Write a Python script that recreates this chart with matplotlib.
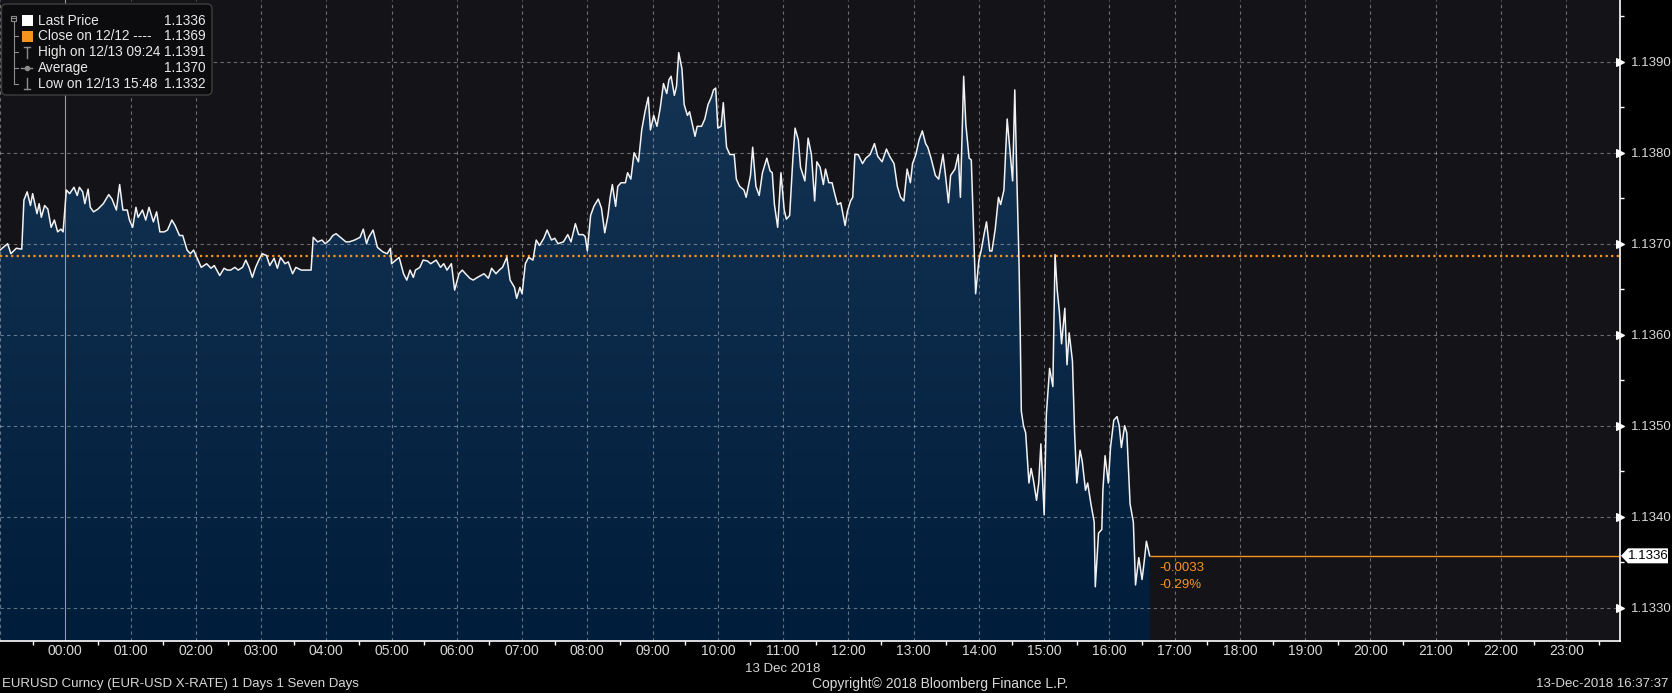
import numpy as np
import matplotlib
matplotlib.use("Agg")
import matplotlib.pyplot as plt
from matplotlib.colors import LinearSegmentedColormap
from matplotlib.patches import FancyBboxPatch, Polygon, Rectangle
from matplotlib.lines import Line2D
from matplotlib.transforms import IdentityTransform

plt.rcParams["font.family"] = ["Liberation Sans", "DejaVu Sans"]

# EURUSD intraday, minutes from 00:00 on 13 Dec 2018 (negative = 12 Dec)
times_min = [
    -60, -53, -50, -45, -40, -38, -35, -32, -30, -26, -24, -22, -19, -16, -13, -10, -7, -4, -2,
    1, 4, 8, 11, 13, 16, 18, 21, 23, 26, 30, 35, 40, 43, 47, 50, 53, 57, 59,
    62, 65, 67, 71, 74, 77, 81, 84, 87, 91, 94, 98, 101, 105, 108, 112, 115, 118,
    122, 125, 130, 134, 137, 142, 146, 149, 152, 156, 159, 163, 166, 169, 172, 175, 178,
    181, 185, 188, 192, 195, 198, 202, 205, 209, 212, 217, 222, 226, 228, 232, 236, 239,
    243, 246, 249, 253, 258, 261, 266, 271, 274, 277, 279, 283, 287, 292, 296, 299,
    300, 304, 307, 311, 314, 317, 320, 322, 326, 329, 333, 336, 341, 345, 348, 351, 355, 358,
    362, 365, 368, 372, 375, 379, 382, 385, 389, 392, 396, 399, 402, 406, 409, 413, 415, 418,
    420, 423, 426, 430, 433, 436, 440, 443, 447, 450, 453, 458, 462, 465, 469, 472, 476, 478,
    480, 483, 486, 490, 493, 496, 499, 501, 503, 506, 508, 511, 515, 517, 520, 523, 527, 530,
    533, 536, 538, 541, 544, 547, 550, 553, 555, 557, 560, 562, 564, 567, 569, 572, 574, 579,
    581, 585, 588, 591, 594, 596, 598, 600, 603, 605, 608, 611, 615, 617, 620, 624, 626, 630,
    632, 635, 638, 641, 645, 648, 650, 652, 655, 658, 661, 663, 666, 669, 671, 674, 676, 680,
    683, 686, 689, 691, 694, 697, 699, 702, 705, 707, 710, 713, 717, 719, 722, 724, 726, 729,
    733, 736, 740, 744, 747, 751, 755, 758, 762, 765, 768, 771, 774, 777, 779, 782, 785, 788,
    791, 793, 796, 800, 803, 807, 809, 812, 814, 818, 821, 823, 826, 828, 831, 833, 835, 837,
    840, 842, 845, 847, 850, 852, 855, 858, 860, 863, 866, 868, 871, 873, 875, 877, 878, 879,
    881, 883, 886, 888, 890, 893, 895, 897, 900, 902, 905, 908, 910, 912, 914, 916, 919, 921,
    923, 926, 928, 930, 933, 935, 938, 940, 943, 946, 947, 950, 953, 954, 956, 959, 961, 964,
    967, 969, 971, 974, 976, 979, 982, 984, 987, 990, 992, 994, 997,
]
prices = [
    1.13693, 1.13700, 1.13689, 1.13695, 1.13694, 1.13748, 1.13757, 1.13742, 1.13755, 1.13733,
    1.13744, 1.13729, 1.13742, 1.13738, 1.13718, 1.13726, 1.13713, 1.13716, 1.13713,
    1.13759, 1.13755, 1.13762, 1.13753, 1.13762, 1.13757, 1.13744, 1.13760, 1.13740, 1.13735,
    1.13738, 1.13744, 1.13754, 1.13749, 1.13737, 1.13765, 1.13737, 1.13737, 1.13726,
    1.13718, 1.13740, 1.13729, 1.13737, 1.13726, 1.13740, 1.13724, 1.13735, 1.13713, 1.13713,
    1.13715, 1.13726, 1.13720, 1.13709, 1.13709, 1.13693, 1.13689, 1.13693,
    1.13682, 1.13674, 1.13678, 1.13673, 1.13676, 1.13665, 1.13673, 1.13671, 1.13671, 1.13674,
    1.13671, 1.13674, 1.13682, 1.13674, 1.13663, 1.13674, 1.13682,
    1.13689, 1.13687, 1.13676, 1.13684, 1.13673, 1.13685, 1.13678, 1.13680, 1.13667, 1.13674,
    1.13671, 1.13671, 1.13671, 1.13707, 1.13702, 1.13704, 1.13700,
    1.13704, 1.13709, 1.13711, 1.13707, 1.13702, 1.13702, 1.13704, 1.13707, 1.13716, 1.13700,
    1.13707, 1.13715, 1.13696, 1.13691, 1.13689, 1.13695,
    1.13678, 1.13682, 1.13685, 1.13667, 1.13660, 1.13671, 1.13663, 1.13671, 1.13674, 1.13682,
    1.13681, 1.13678, 1.13682, 1.13674, 1.13678, 1.13671, 1.13678, 1.13649,
    1.13667, 1.13671, 1.13667, 1.13662, 1.13660, 1.13663, 1.13665, 1.13667, 1.13662, 1.13673,
    1.13667, 1.13671, 1.13674, 1.13685, 1.13660, 1.13652, 1.13640, 1.13652,
    1.13645, 1.13678, 1.13685, 1.13682, 1.13704, 1.13698, 1.13706, 1.13715, 1.13704, 1.13706,
    1.13700, 1.13702, 1.13710, 1.13702, 1.13722, 1.13710, 1.13710, 1.13708,
    1.13692, 1.13731, 1.13741, 1.13749, 1.13739, 1.13712, 1.13731, 1.13751, 1.13765, 1.13741,
    1.13763, 1.13767, 1.13767, 1.13778, 1.13771, 1.13800, 1.13790, 1.13825,
    1.13845, 1.13861, 1.13825, 1.13841, 1.13829, 1.13849, 1.13876, 1.13865, 1.13880, 1.13884,
    1.13863, 1.13873, 1.13910, 1.13892, 1.13853, 1.13841, 1.13845, 1.13818,
    1.13829, 1.13829, 1.13837, 1.13853, 1.13861, 1.13869, 1.13871, 1.13827, 1.13829, 1.13855,
    1.13806, 1.13798, 1.13798, 1.13771, 1.13763, 1.13759, 1.13751, 1.13775,
    1.13806, 1.13763, 1.13753, 1.13778, 1.13794, 1.13780, 1.13778, 1.13743, 1.13718, 1.13778,
    1.13737, 1.13727, 1.13731, 1.13794, 1.13827, 1.13814, 1.13784, 1.13769,
    1.13816, 1.13798, 1.13747, 1.13790, 1.13784, 1.13765, 1.13782, 1.13767, 1.13767, 1.13757,
    1.13743, 1.13745, 1.13720, 1.13735, 1.13747, 1.13751, 1.13798, 1.13798,
    1.13788, 1.13794, 1.13798, 1.13810, 1.13796, 1.13790, 1.13804, 1.13796, 1.13788, 1.13763,
    1.13751, 1.13747, 1.13782, 1.13767, 1.13788, 1.13798, 1.13814, 1.13824,
    1.13810, 1.13806, 1.13794, 1.13775, 1.13771, 1.13798, 1.13778, 1.13745, 1.13775, 1.13782,
    1.13798, 1.13751, 1.13884, 1.13831, 1.13794, 1.13792, 1.13720, 1.13645,
    1.13682, 1.13692, 1.13712, 1.13724, 1.13692, 1.13692, 1.13716, 1.13751, 1.13743, 1.13759,
    1.13837, 1.13810, 1.13769, 1.13869, 1.13767, 1.13673, 1.13602, 1.13516,
    1.13500, 1.13492, 1.13437, 1.13453, 1.13441, 1.13418, 1.13437, 1.13480, 1.13402, 1.13512,
    1.13563, 1.13543, 1.13688, 1.13649, 1.13625, 1.13590, 1.13629, 1.13567,
    1.13602, 1.13571, 1.13492, 1.13437, 1.13473, 1.13461, 1.13429, 1.13437, 1.13414, 1.13394,
    1.13323, 1.13382, 1.13386, 1.13429, 1.13467, 1.13437, 1.13476, 1.13506,
    1.13510, 1.13500, 1.13476, 1.13500, 1.13492, 1.13414, 1.13394, 1.13325, 1.13355, 1.13331,
    1.13351, 1.13373, 1.13357,
]
close_price = 1.13686
legend_labels = ["Last Price", "Close on 12/12 ----", "High on 12/13 09:24", "Average",
                 "Low on 12/13 15:48"]
legend_values = [1.1336, 1.1369, 1.1391, 1.1370, 1.1332]
y_ticks = [1.1330, 1.1340, 1.1350, 1.1360, 1.1370, 1.1380, 1.1390]
hour_ticks = list(range(24))

W, H = 1672, 693
BG = "#000000"
PLOT_BG = "#141318"
TXT = "#d8d8d8"
ORANGE = "#f7941d"

t = np.array(times_min, dtype=float)
p = np.array(prices)
xmin, xmax = -60, 1429.7
ymin, ymax = 1.132634, 1.139678

fig = plt.figure(figsize=(W / 100, H / 100), dpi=100, facecolor=BG)
ax = fig.add_axes([0, 52 / H, 1620.3 / W, 641 / H])
ax.set_facecolor(PLOT_BG)

# gradient fill under the price line
cmap = LinearSegmentedColormap.from_list("fill", ["#001d3b", "#173656"])
grad = np.linspace(0, 1, 256).reshape(-1, 1)
im = ax.imshow(grad, extent=[xmin, xmax, ymin, ymax], origin="lower", aspect="auto",
               cmap=cmap, zorder=1, interpolation="bilinear")
poly = ax.fill_between(t, p, ymin, facecolor="none", edgecolor="none")
im.set_clip_path(poly.get_paths()[0], transform=ax.transData)

# grid
for h in range(-1, 24):
    if h == 0:
        ax.axvline(0, color="#9a9a9a", lw=0.8, zorder=2)
    else:
        ax.axvline(h * 60, color="white", alpha=0.38, lw=0.8, ls=(0, (3, 3)), zorder=2)
for yv in y_ticks:
    ax.axhline(yv, color="white", alpha=0.38, lw=0.8, ls=(0, (3, 3)), zorder=2)

# previous close and last price
ax.axhline(close_price, color=ORANGE, lw=1.6, ls=(0, (1, 1.5)), zorder=3)
ax.plot(t, p, color="#f2f2f2", lw=1.1, zorder=4)
ax.hlines(p[-1], t[-1], xmax, color=ORANGE, lw=1.0, zorder=3)

chg = p[-1] - close_price
ax.annotate(f"{chg:.4f}", xy=(t[-1], p[-1]), xytext=(10, -12), textcoords="offset pixels",
            color=ORANGE, fontsize=9.5, va="center", ha="left")
ax.annotate(f"{chg / close_price * 100:.2f}%", xy=(t[-1], p[-1]), xytext=(10, -29),
            textcoords="offset pixels", color=ORANGE, fontsize=9.5, va="center", ha="left")

ax.set_xlim(xmin, xmax)
ax.set_ylim(ymin, ymax)

# axes styling
for side in ["left", "top"]:
    ax.spines[side].set_visible(False)
for side in ["right", "bottom"]:
    ax.spines[side].set_color("white")
    ax.spines[side].set_linewidth(1.2)
    ax.spines[side].set_zorder(5)

ax.yaxis.tick_right()
ax.set_yticks(y_ticks)
ax.set_yticklabels([f"{v:.4f}" for v in y_ticks])
ax.set_yticks([v + 0.0005 for v in y_ticks], minor=True)
ax.tick_params(axis="y", which="major", length=0, pad=8, labelsize=9.5, labelcolor=TXT)
ax.tick_params(axis="y", which="minor", length=3, width=1, color="white", direction="out")

ax.set_xticks([h * 60 for h in hour_ticks])
ax.set_xticklabels([f"{h:02d}:00" for h in hour_ticks])
ax.set_xticks([h * 60 + 30 for h in range(-1, 24)], minor=True)
ax.tick_params(axis="x", which="major", length=0, pad=2, labelsize=10, labelcolor=TXT)
ax.tick_params(axis="x", which="minor", length=3, width=1, color="white", direction="out")

# triangle markers on the right axis
ax.scatter([xmax] * len(y_ticks), y_ticks, marker=">", s=30, color="white",
           clip_on=False, zorder=6)

# last price tag on the right axis
ly = ax.transData.transform((0, p[-1]))[1]
tag = Polygon([[1621, ly], [1628, ly + 7.5], [1668, ly + 7.5], [1668, ly - 7.5],
               [1628, ly - 7.5]], closed=True, facecolor="white", edgecolor="none",
              transform=IdentityTransform())
fig.add_artist(tag)
fig.text(1648 / W, ly / H, f"{p[-1]:.4f}", color="black", fontsize=9.5,
         ha="center", va="center")

# legend box (pixel coordinates from the top-left)
def fy(y):
    return H - y

fig.add_artist(FancyBboxPatch((1.5, fy(95)), 210.5, 91, boxstyle="round,pad=0,rounding_size=5",
                              facecolor="#0c0c0e", edgecolor="#3e3e3e", lw=1,
                              transform=IdentityTransform()))
rows = [20.7, 36.3, 52.3, 68.3, 84.3]
GREY = "#8c8c8c"
idt = IdentityTransform()
fig.add_artist(Rectangle((11, fy(20.5)), 5, 5, facecolor="none", edgecolor=GREY, lw=0.8,
                         transform=idt))
fig.add_artist(Line2D([12, 15], [fy(18), fy(18)], color=GREY, lw=0.8, transform=idt))
fig.add_artist(Line2D([13.5, 13.5], [fy(21.5), fy(rows[-1])], color=GREY, lw=0.8,
                      transform=idt))
for r in rows[1:]:
    fig.add_artist(Line2D([13.5, 18], [fy(r), fy(r)], color=GREY, lw=0.8, transform=idt))
fig.add_artist(Rectangle((21.5, fy(26)), 11, 11, facecolor="white", edgecolor="none",
                         transform=idt))
fig.add_artist(Rectangle((21.5, fy(41.5)), 11, 11, facecolor=ORANGE, edgecolor="none",
                         transform=idt))
fig.add_artist(Line2D([26.5, 26.5], [fy(47), fy(58)], color=GREY, lw=1, transform=idt))
fig.add_artist(Line2D([23.5, 29.5], [fy(47), fy(47)], color=GREY, lw=1, transform=idt))
fig.add_artist(Line2D([21, 32], [fy(68.3), fy(68.3)], color=GREY, lw=1, transform=idt))
fig.add_artist(Line2D([26.5], [fy(68.3)], color=GREY, marker="o", ms=3, transform=idt))
fig.add_artist(Line2D([26.5, 26.5], [fy(78), fy(89)], color=GREY, lw=1, transform=idt))
fig.add_artist(Line2D([23.5, 29.5], [fy(89), fy(89)], color=GREY, lw=1, transform=idt))
for r, lab, val in zip(rows, legend_labels, legend_values):
    fig.text(37.5 / W, fy(r) / H, lab, color="#e8e8e8", fontsize=9.8, ha="left", va="center")
    fig.text(205.5 / W, fy(r) / H, f"{val:.4f}", color="#e8e8e8", fontsize=9.8,
             ha="right", va="center")

# footer texts
fig.text(783 / W, fy(669) / H, "13 Dec 2018", color=TXT, fontsize=9.5, ha="center",
         va="center")
fig.text(2 / W, fy(684) / H, "EURUSD Curncy (EUR-USD X-RATE) 1 Days 1 Seven Days",
         color=TXT, fontsize=9.5, ha="left", va="center")
fig.text(940 / W, fy(684) / H, "Copyright\u00a9 2018 Bloomberg Finance L.P.", color=TXT,
         fontsize=10, ha="center", va="center")
fig.text(1668 / W, fy(684) / H, "13-Dec-2018 16:37:37", color=TXT, fontsize=9.5,
         ha="right", va="center")

fig.savefig("out.png", dpi=100, facecolor=BG)
